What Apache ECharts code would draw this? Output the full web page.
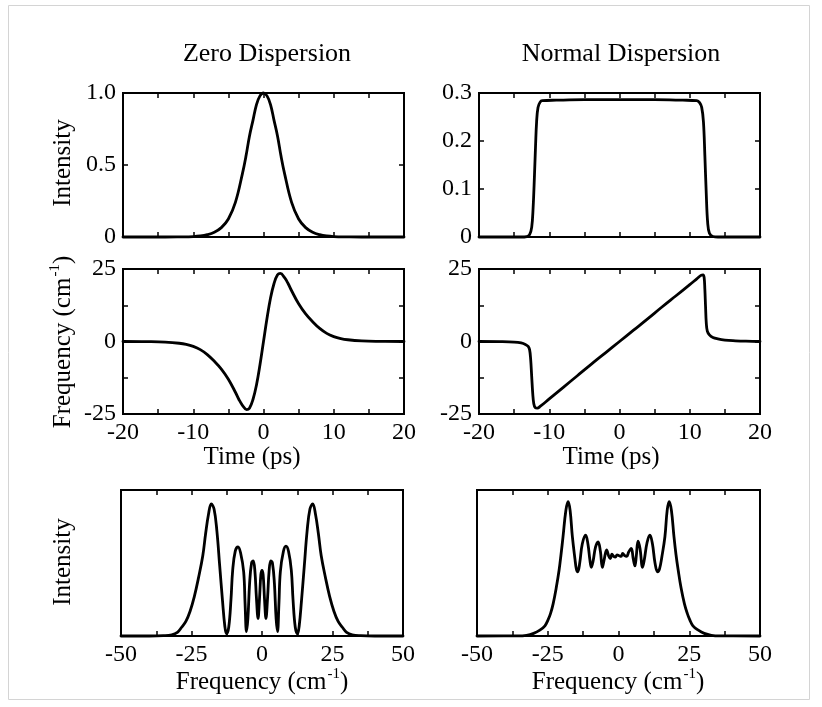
<!DOCTYPE html>
<html>
<head>
<meta charset="utf-8">
<title>Self-phase modulation: zero vs normal dispersion</title>
<script src="https://cdn.jsdelivr.net/npm/echarts@6/dist/echarts.min.js"></script>
<style>
  html, body { margin: 0; padding: 0; background: #fff; }
  #chart { width: 822px; height: 707px; }
</style>
</head>
<body>
<div id="chart"></div>
<script>
// ---- data: [x, y] samples for each panel ----
const panelTitles = ['Zero Dispersion', 'Normal Dispersion'];

// pulse intensity vs time (ps)
const zeroPulse = [
  [-20, 0], [-14, 0], [-12, 0.001], [-10, 0.003], [-9, 0.007], [-8, 0.016], [-7, 0.033],
  [-6, 0.065], [-5, 0.125], [-4, 0.24], [-3, 0.44], [-2.5, 0.56], [-2, 0.7], [-1.5, 0.81],
  [-1, 0.92], [-0.5, 0.98], [0, 1], [0.5, 0.98], [1, 0.92], [1.5, 0.81], [2, 0.7],
  [2.5, 0.56], [3, 0.44], [4, 0.24], [5, 0.125], [6, 0.065], [7, 0.033], [8, 0.016],
  [9, 0.007], [10, 0.003], [12, 0.001], [14, 0], [20, 0]
];
const normalPulse = [
  [-20, 0], [-14, 0], [-13.2, 0.001], [-12.8, 0.005], [-12.5, 0.02], [-12.3, 0.06],
  [-12.1, 0.13], [-11.95, 0.19], [-11.8, 0.24], [-11.6, 0.27], [-11.3, 0.281], [-11, 0.284],
  [-9, 0.285], [-5, 0.286], [0, 0.286], [5, 0.286], [9, 0.285], [11, 0.284], [11.4, 0.28],
  [11.7, 0.27], [11.95, 0.24], [12.15, 0.17], [12.35, 0.09], [12.55, 0.03], [12.8, 0.008],
  [13.3, 0.001], [14, 0], [20, 0]
];

// instantaneous frequency shift (cm^-1) vs time (ps)
const zeroChirp = [
  [-20, 0], [-16, -0.05], [-14, -0.2], [-12, -0.6], [-11, -1], [-10, -1.7], [-9, -2.8],
  [-8, -4.5], [-7, -6.8], [-6, -9.5], [-5, -13], [-4, -17.5], [-3.5, -20], [-3, -22],
  [-2.4, -23.5], [-2, -23], [-1.5, -20], [-1, -15], [-0.5, -8], [0, 0], [0.5, 8], [1, 15],
  [1.5, 20], [2, 23], [2.4, 23.5], [3, 22], [3.5, 20], [4, 17.5], [5, 13], [6, 9.5],
  [7, 6.8], [8, 4.5], [9, 2.8], [10, 1.7], [11, 1], [12, 0.6], [14, 0.2], [16, 0.05], [20, 0]
];
const normalChirp = [
  [-20, 0], [-17, -0.05], [-15, -0.2], [-14, -0.5], [-13.4, -1], [-13, -1.7], [-12.8, -2.8],
  [-12.65, -6], [-12.5, -12], [-12.35, -18], [-12.2, -21.5], [-12, -22.8], [-11.7, -23],
  [-11.3, -22.4], [-10, -19.8], [-8, -15.8], [-6, -11.8], [-4, -7.8], [-2, -3.9], [0, 0],
  [2, 3.9], [4, 7.8], [6, 11.8], [8, 15.7], [10, 19.6], [11, 21.6], [11.6, 22.8], [11.9, 23],
  [12.05, 22], [12.15, 18], [12.25, 12], [12.35, 6.5], [12.5, 3.6], [12.8, 2.3], [13.3, 1.4],
  [14, 0.9], [15, 0.5], [16.5, 0.25], [18, 0.1], [20, 0]
];

// spectral intensity vs frequency (cm^-1)
const zeroSpectrum = [
  [-50, 0], [-40, 0], [-35, 0.002], [-32, 0.008], [-30, 0.025], [-28.5, 0.06], [-27, 0.1],
  [-25.5, 0.17], [-24, 0.27], [-22.5, 0.4], [-21, 0.55], [-20, 0.7], [-19, 0.83], [-18, 0.905],
  [-17, 0.87], [-16, 0.72], [-15, 0.48], [-14, 0.24], [-13.2, 0.07], [-12.6, 0.015],
  [-11.8, 0.06], [-11, 0.25], [-10.4, 0.45], [-9.5, 0.58], [-8.5, 0.61], [-7.6, 0.57],
  [-6.5, 0.44], [-6, 0.22], [-5.5, 0.03], [-5, 0.12], [-4.4, 0.36], [-3.7, 0.5], [-3.1, 0.515],
  [-2.5, 0.44], [-2, 0.27], [-1.4, 0.12], [-0.9, 0.25], [-0.4, 0.42], [0, 0.45], [0.4, 0.42],
  [0.9, 0.25], [1.4, 0.12], [2, 0.27], [2.5, 0.44], [3.1, 0.515], [3.7, 0.5], [4.4, 0.36],
  [5, 0.12], [5.5, 0.03], [6, 0.22], [6.5, 0.44], [7.6, 0.58], [8.5, 0.615], [9.4, 0.58],
  [10.4, 0.45], [11, 0.25], [11.8, 0.06], [12.6, 0.015], [13.2, 0.07], [14, 0.24], [15, 0.48],
  [16, 0.72], [17, 0.87], [18, 0.905], [19, 0.83], [20, 0.7], [21, 0.55], [22.5, 0.4],
  [24, 0.27], [25.5, 0.17], [27, 0.1], [28.5, 0.06], [30, 0.025], [32, 0.008], [35, 0.002],
  [40, 0], [50, 0]
];
const normalSpectrum = [
  [-50, 0], [-36, 0.001], [-32.5, 0.005], [-30, 0.018], [-27.8, 0.04], [-26, 0.07],
  [-24.9, 0.11], [-24, 0.155], [-23.1, 0.22], [-22, 0.33], [-21, 0.45], [-20.3, 0.56],
  [-19.6, 0.68], [-18.6, 0.86], [-17.8, 0.92], [-17.1, 0.86], [-16.3, 0.68], [-15.4, 0.53],
  [-14.9, 0.46], [-14.4, 0.44], [-13.7, 0.5], [-12.8, 0.63], [-11.6, 0.69], [-10.8, 0.63],
  [-10.1, 0.52], [-9.6, 0.47], [-9, 0.51], [-8.1, 0.61], [-7.2, 0.645], [-6.4, 0.58],
  [-5.7, 0.47], [-5.1, 0.52], [-4.2, 0.59], [-3.5, 0.55], [-2.9, 0.53], [-2.3, 0.56],
  [-1.7, 0.545], [-1.1, 0.54], [-0.5, 0.555], [0.2, 0.55], [0.9, 0.545], [1.5, 0.565],
  [2.2, 0.55], [2.9, 0.545], [3.6, 0.575], [4.5, 0.6], [5.2, 0.53], [5.8, 0.48], [6.3, 0.55],
  [6.9, 0.65], [7.6, 0.6], [8.5, 0.47], [9.1, 0.52], [10.1, 0.64], [11.1, 0.69], [12, 0.63],
  [12.9, 0.5], [13.8, 0.44], [14.5, 0.46], [15.3, 0.54], [16.4, 0.68], [17.2, 0.86],
  [17.9, 0.92], [18.7, 0.86], [19.6, 0.68], [20.3, 0.56], [21.1, 0.45], [22.1, 0.33],
  [23.3, 0.22], [24.3, 0.155], [25.2, 0.11], [26.3, 0.07], [28.2, 0.04], [30.3, 0.018],
  [32.8, 0.005], [36, 0.001], [50, 0]
];

// labelled tick values
const timeLabels = [-20, -10, 0, 10, 20];
const chirpLabels = [-25, 0, 25];
const zeroPulseLabels = [0, 0.5, 1.0];
const normalPulseLabels = [0, 0.1, 0.2, 0.3];
const spectrumLabels = [-50, -25, 0, 25, 50];

// ---- layout & styling ----
const FONT = '"Liberation Serif", "Times New Roman", serif';
const BLACK = '#000';

const gridBoxes = [
  { left: 123, top: 93, width: 281, height: 144 },   // zero-dispersion intensity
  { left: 479, top: 93, width: 281, height: 144 },   // normal-dispersion intensity
  { left: 123, top: 269, width: 281, height: 145 },  // zero-dispersion chirp
  { left: 479, top: 269, width: 281, height: 145 },  // normal-dispersion chirp
  { left: 121, top: 490, width: 282, height: 146 },  // zero-dispersion spectrum
  { left: 477, top: 490, width: 283, height: 146 }   // normal-dispersion spectrum
];

function labelFormatter(list, fixed) {
  return function (v) {
    const hit = list.some(t => Math.abs(t - v) < 1e-9);
    if (!hit) return '';
    if (fixed && Math.abs(v) > 1e-9) return v.toFixed(1);
    return String(Math.round(v * 1000) / 1000);
  };
}

function tickStyle(show) {
  return { show: show, inside: true, length: 5, lineStyle: { color: BLACK, width: 1.5 } };
}

function labelStyle(list, fixed) {
  return {
    show: true, margin: 7, fontSize: 24, fontFamily: FONT, color: BLACK,
    formatter: labelFormatter(list, fixed)
  };
}

// a primary axis (labels) plus a mirrored one (ticks only) per side
function axisPair(kind, gi, min, max, interval, labels, fixed, ticks) {
  const base = {
    type: 'value', gridIndex: gi, min: min, max: max, interval: interval,
    splitLine: { show: false }, axisLine: { show: false, onZero: false },
    axisTick: tickStyle(ticks !== false)
  };
  const main = Object.assign({}, base, {
    position: kind === 'x' ? 'bottom' : 'left',
    axisLabel: labels ? labelStyle(labels, fixed) : { show: false }
  });
  const mirror = Object.assign({}, base, {
    position: kind === 'x' ? 'top' : 'right',
    axisLabel: { show: false }
  });
  return [main, mirror];
}

const xAxes = [].concat(
  axisPair('x', 0, -20, 20, 5, null),
  axisPair('x', 1, -20, 20, 5, null),
  axisPair('x', 2, -20, 20, 5, timeLabels),
  axisPair('x', 3, -20, 20, 5, timeLabels),
  axisPair('x', 4, -50, 50, 12.5, spectrumLabels),
  axisPair('x', 5, -50, 50, 12.5, spectrumLabels)
);
const yAxes = [].concat(
  axisPair('y', 0, 0, 1, 0.5, zeroPulseLabels, true),
  axisPair('y', 1, 0, 0.3, 0.1, normalPulseLabels, true),
  axisPair('y', 2, -25, 25, 12.5, chirpLabels),
  axisPair('y', 3, -25, 25, 12.5, chirpLabels),
  axisPair('y', 4, 0, 1, 0.5, null, false, false),
  axisPair('y', 5, 0, 1, 0.5, null, false, false)
);

const panelData = [zeroPulse, normalPulse, zeroChirp, normalChirp, zeroSpectrum, normalSpectrum];

const series = panelData.map((data, i) => ({
  type: 'line',
  xAxisIndex: 2 * i,
  yAxisIndex: 2 * i,
  data: data,
  smooth: 0.4,
  showSymbol: false,
  symbol: 'none',
  clip: false,
  silent: true,
  lineStyle: { color: BLACK, width: 2.8, join: 'round', cap: 'round' },
  z: 3
}));

function plainText(text, x, y, size, rotate) {
  return {
    type: 'text', x: x, y: y, rotation: rotate ? Math.PI / 2 : 0, silent: true,
    style: {
      text: text, fill: BLACK, font: size + 'px ' + FONT,
      textAlign: 'center', textVerticalAlign: 'middle'
    }
  };
}

function freqText(x, y, rotate) {
  return {
    type: 'text', x: x, y: y, rotation: rotate ? Math.PI / 2 : 0, silent: true,
    style: {
      text: '{n|Frequency (cm}{s|-1}{n|)}',
      fill: BLACK, align: 'center', verticalAlign: 'middle',
      rich: {
        n: { fontSize: 25, fontFamily: FONT, color: BLACK, lineHeight: 28, verticalAlign: 'bottom' },
        s: { fontSize: 15, fontFamily: FONT, color: BLACK, lineHeight: 28, verticalAlign: 'top', padding: [0, 0, 0, 1] }
      }
    }
  };
}

const graphics = [
  // faint frame around the figure
  {
    type: 'rect', silent: true, z: -10,
    shape: { x: 8.5, y: 5.5, width: 801, height: 694 },
    style: { fill: 'none', stroke: '#d4d4d4', lineWidth: 1 }
  },
  plainText(panelTitles[0], 267, 54, 26),
  plainText(panelTitles[1], 621, 54, 26),
  plainText('Intensity', 63, 163, 25, true),
  freqText(62, 342, true),
  plainText('Intensity', 63, 562, 25, true),
  plainText('Time (ps)', 252, 457, 25),
  plainText('Time (ps)', 611, 457, 25),
  freqText(262, 681, false),
  freqText(618, 681, false)
];

const chart = echarts.init(document.getElementById('chart'), null, { renderer: 'canvas' });
chart.setOption({
  animation: false,
  backgroundColor: '#fff',
  grid: gridBoxes.map(b => Object.assign({
    show: true, borderColor: BLACK, borderWidth: 2,
    backgroundColor: 'transparent', containLabel: false, outerBoundsMode: 'none'
  }, b)),
  xAxis: xAxes,
  yAxis: yAxes,
  series: series,
  graphic: { elements: graphics }
});
</script>
</body>
</html>
